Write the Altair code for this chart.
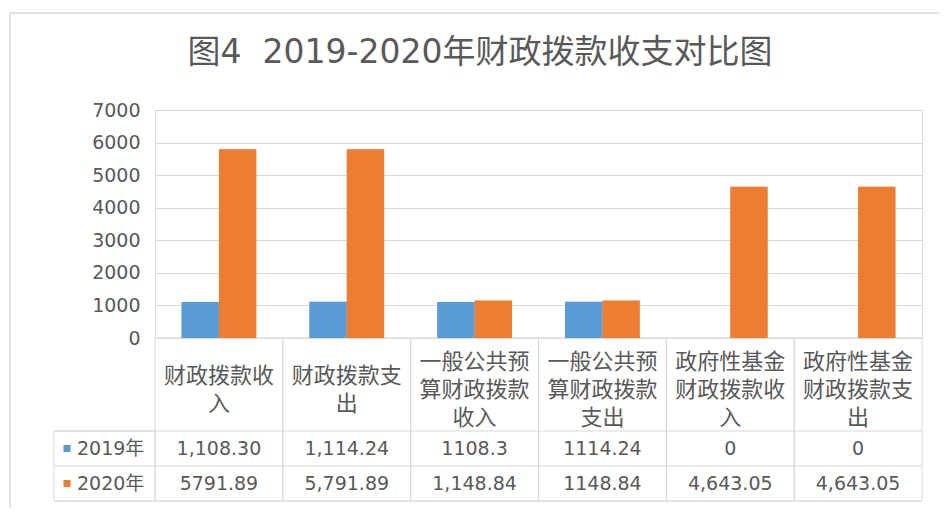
import altair as alt
import pandas as pd

# ---------------- data ----------------
categories = [
    "财政拨款收入", "财政拨款支出",
    "一般公共预算财政拨款收入", "一般公共预算财政拨款支出",
    "政府性基金财政拨款收入", "政府性基金财政拨款支出",
]
category_labels = [
    "财政拨款收\n入", "财政拨款支\n出",
    "一般公共预\n算财政拨款\n收入", "一般公共预\n算财政拨款\n支出",
    "政府性基金\n财政拨款收\n入", "政府性基金\n财政拨款支\n出",
]
years = ["2019年", "2020年"]
values_2019 = [1108.30, 1114.24, 1108.3, 1114.24, 0, 0]
values_2020 = [5791.89, 5791.89, 1148.84, 1148.84, 4643.05, 4643.05]
table_2019 = ["1,108.30", "1,114.24", "1108.3", "1114.24", "0", "0"]
table_2020 = ["5791.89", "5,791.89", "1,148.84", "1148.84", "4,643.05", "4,643.05"]
y_ticks = [0, 1000, 2000, 3000, 4000, 5000, 6000, 7000]
colors = ["#5B9BD5", "#ED7D31"]
title_text = "图4\u00a0\u00a02019-2020年财政拨款收支对比图"

# ---------------- tables ----------------
bars_df = pd.DataFrame(
    [{"category": c, "year": years[0], "value": v} for c, v in zip(categories, values_2019)]
    + [{"category": c, "year": years[1], "value": v} for c, v in zip(categories, values_2020)]
)
header_df = pd.DataFrame({"category": categories, "label": category_labels})
table_df = pd.DataFrame(
    [{"category": c, "year": years[0], "text": t} for c, t in zip(categories, table_2019)]
    + [{"category": c, "year": years[1], "text": t} for c, t in zip(categories, table_2020)]
)
legend_df = pd.DataFrame({"year": years})
one = pd.DataFrame({"title": [title_text]})

W, H = 767, 228
PAD_R, PAD_B = 17, 170
GRID = "#d9d9d9"
TXT = "#595959"
NUMFONT = "DejaVu Sans, Noto Sans CJK SC"
CJKFONT = "Noto Sans CJK SC"
LINE_H = 28

color = alt.Color("year:N", scale=alt.Scale(domain=years, range=colors), legend=None)
x_bar = alt.X("category:N", sort=categories,
              scale=alt.Scale(domain=categories, paddingInner=0.415, paddingOuter=0.2075),
              axis=None)
x_cell = alt.X("category:N", sort=categories,
               scale=alt.Scale(domain=categories, paddingInner=0, paddingOuter=0),
               axis=None)
xoff = alt.XOffset("year:N", sort=years,
                   scale=alt.Scale(domain=years, paddingInner=0, paddingOuter=0))
y_val = alt.Y("value:Q", scale=alt.Scale(domain=[0, 7000]),
              axis=alt.Axis(values=y_ticks, format="d", grid=True, gridColor=GRID, gridWidth=1,
                            domain=False, ticks=False, tickSize=0, labelPadding=15,
                            labelFont=NUMFONT, labelFontSize=19, labelColor=TXT,
                            title=None))
y_row = alt.Y("year:N", sort=years,
              scale=alt.Scale(type="point", domain=years, range=[338.5, 373.5], padding=0),
              axis=None)

# chart-area frame: only left and top edges fall inside the picture
frame_left = alt.Chart(one).mark_rule(color=GRID, strokeWidth=1.5).encode(
    x=alt.value(-145), y=alt.value(-97), y2=alt.value(H + PAD_B)
)
frame_top = alt.Chart(one).mark_rule(color=GRID, strokeWidth=1.5).encode(
    x=alt.value(-145), x2=alt.value(W + PAD_R), y=alt.value(-97)
)

title = alt.Chart(one).mark_text(
    font=NUMFONT, fontSize=33, color=TXT, align="center", baseline="alphabetic"
).encode(x=alt.value(325), y=alt.value(-47), text="title:N")

# data-table cells (category columns)
cells = alt.Chart(header_df).mark_rect(fillOpacity=0, stroke=GRID, strokeWidth=1).encode(
    x=x_cell, y=alt.value(228), y2=alt.value(391)
)
row_lines = alt.Chart(pd.DataFrame({"yy": [321, 356, 391]})).mark_rule(
    color=GRID, strokeWidth=1
).encode(x=alt.value(-101), x2=alt.value(W), y=alt.Y("yy:Q", scale=None, axis=None))
legend_box = alt.Chart(one).mark_rect(fillOpacity=0, stroke=GRID, strokeWidth=1).encode(
    x=alt.value(-101), x2=alt.value(0), y=alt.value(321), y2=alt.value(391)
)

shadow = alt.Chart(bars_df).mark_bar(color="#808080", opacity=0.3, xOffset=3).encode(
    x=x_bar, xOffset=xoff, y=alt.Y("value:Q", scale=alt.Scale(domain=[0, 7000]), axis=None)
)
bars = alt.Chart(bars_df).mark_bar().encode(
    x=x_bar, xOffset=xoff, y=y_val, color=color
)

# multi-line header labels, vertically centred in the header row
header_text = alt.Chart(header_df).transform_calculate(
    ty=f"280 - (length(split(datum.label, '\\n')) - 1) * {LINE_H / 2}"
).mark_text(
    font=CJKFONT, fontSize=22, color=TXT, lineBreak="\n", lineHeight=LINE_H,
    baseline="middle", align="center"
).encode(x=x_cell, y=alt.Y("ty:Q", scale=None, axis=None), text="label:N")

value_text = alt.Chart(table_df).mark_text(
    font=NUMFONT, fontSize=19, color=TXT, baseline="middle", align="center"
).encode(x=x_cell, y=y_row, text="text:N")

legend_sq = alt.Chart(legend_df).mark_point(
    shape="square", filled=True, size=49, opacity=1
).encode(x=alt.value(-88), y=y_row, color=color)
legend_txt = alt.Chart(legend_df).mark_text(
    font=NUMFONT, fontSize=19, color=TXT, align="left", baseline="middle"
).encode(x=alt.value(-78), y=y_row, text="year:N")

chart = alt.layer(
    frame_left, frame_top, title, cells, row_lines, legend_box, shadow, bars,
    header_text, value_text, legend_sq, legend_txt
).resolve_scale(
    x="independent", y="independent"
).properties(
    width=W, height=H,
    autosize=alt.AutoSizeParams(type="none"),
    padding={"left": 147, "top": 102, "right": PAD_R, "bottom": PAD_B},
).configure_view(stroke=None).configure(background="white")

chart.save("out.html", embed_options={"renderer": "svg", "actions": False})
